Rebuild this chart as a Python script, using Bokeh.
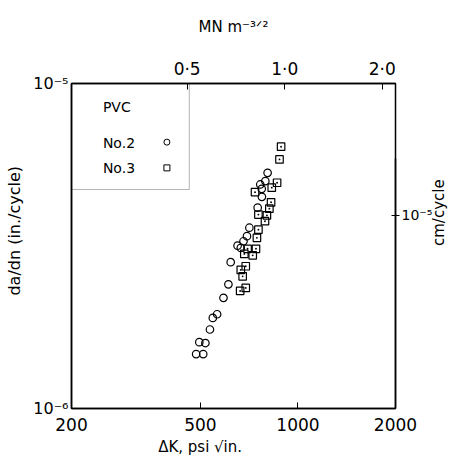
import math
from bokeh.plotting import figure
from bokeh.models import Range1d, LogAxis, LogScale, FixedTicker, CustomJSTickFormatter, BoxAnnotation, Label
from bokeh.embed import file_html
from bokeh.resources import INLINE

# ---- data ----
no2_dK = [485, 510, 496, 518, 535, 546, 563, 589, 610, 620, 651, 666, 679, 696, 708,
          751, 774, 765, 773, 793, 806]
no2_dadn = [1.47e-6, 1.47e-6, 1.60e-6, 1.59e-6, 1.75e-6, 1.90e-6, 1.95e-6, 2.19e-6,
            2.41e-6, 2.82e-6, 3.17e-6, 3.12e-6, 3.27e-6, 3.39e-6, 3.60e-6, 4.15e-6,
            4.48e-6, 4.89e-6, 4.74e-6, 5.01e-6, 5.31e-6]
no3_dK = [887, 877, 862, 830, 737, 826, 816, 755, 802, 791, 755, 747, 699, 742, 683,
          725, 690, 666, 675, 690, 663]
no3_dadn = [6.39e-6, 5.84e-6, 4.95e-6, 4.78e-6, 4.63e-6, 4.31e-6, 4.12e-6, 3.95e-6,
            3.93e-6, 3.77e-6, 3.55e-6, 3.35e-6, 3.10e-6, 3.10e-6, 2.99e-6, 2.96e-6,
            2.74e-6, 2.67e-6, 2.55e-6, 2.35e-6, 2.30e-6]

x_ticks = [200, 500, 1000, 2000]
x_tick_labels = ["200", "500", "1000", "2000"]
y_ticks = [1e-6, 1e-5]
y_tick_labels = ["10\u207b\u2076", "10\u207b\u2075"]
top_ticks = [0.5, 1.0, 2.0]
top_tick_labels = ["0\u00b75", "1\u00b70", "2\u00b70"]
right_ticks = [1e-5]
right_tick_labels = ["10\u207b\u2075"]

PSI_IN_PER_MPA_M = 910.0
CM_PER_IN = 2.54
X_MIN, X_MAX = 200, 2000
Y_MIN, Y_MAX = 1e-6, 1e-5

FONT = "DejaVu Sans"

def fmt(tk, lb):
    return CustomJSTickFormatter(args=dict(tks=tk, lbls=lb), code="""
        let best = 0;
        for (let i = 0; i < tks.length; i++) {
            if (Math.abs(Math.log(tks[i] / tick)) < Math.abs(Math.log(tks[best] / tick))) best = i;
        }
        return lbls[best];
    """)

p = figure(x_axis_type="log", y_axis_type="log",
           x_range=Range1d(X_MIN, X_MAX), y_range=Range1d(Y_MIN, Y_MAX),
           frame_width=324, frame_height=325,
           min_border_left=71, min_border_right=50, min_border_top=83, min_border_bottom=48,
           output_backend="svg", toolbar_location=None)
p.grid.visible = False
p.outline_line_color = "black"
p.outline_line_width = 1.5
p.background_fill_color = "white"

p.extra_x_ranges = {"mn": Range1d(X_MIN / PSI_IN_PER_MPA_M, X_MAX / PSI_IN_PER_MPA_M)}
p.extra_x_scales = {"mn": LogScale()}
p.extra_y_ranges = {"cm": Range1d(Y_MIN * CM_PER_IN, Y_MAX * CM_PER_IN)}
p.extra_y_scales = {"cm": LogScale()}

nb = "\u00a0"
xa = p.xaxis[0]
xa.ticker = FixedTicker(ticks=x_ticks)
xa.formatter = fmt(x_ticks, x_tick_labels)
xa.axis_label = "\u0394K, psi \u221ain." + nb * 14

ya = p.yaxis[0]
ya.ticker = FixedTicker(ticks=y_ticks)
ya.formatter = fmt(y_ticks, y_tick_labels)
ya.axis_label = nb * 6 + "da/dn (in./cycle)"

top = LogAxis(x_range_name="mn", ticker=FixedTicker(ticks=top_ticks),
              formatter=fmt(top_ticks, top_tick_labels),
              axis_label="MN m\u207b\u00b3\u141f\u00b2")
# bounds shift the (start-anchored) rotated title so that it sits like the reference's
right = LogAxis(y_range_name="cm", ticker=FixedTicker(ticks=right_ticks),
                formatter=fmt(right_ticks, right_tick_labels),
                axis_label="cm/cycle",
                bounds=(Y_MIN * CM_PER_IN, 1.494e-5))
p.add_layout(top, "above")
p.add_layout(right, "right")

for ax in [xa, ya, top, right]:
    ax.axis_line_color = "black"
    ax.axis_line_width = 1.5
    ax.major_tick_line_color = "black"
    ax.major_tick_in = 6
    ax.major_tick_out = 0
    ax.minor_tick_line_color = None
    ax.major_label_text_font = FONT
    ax.major_label_text_font_size = "17px"
    ax.major_label_text_color = "black"
    ax.axis_label_text_font = FONT
    ax.axis_label_text_font_size = "15px"
    ax.axis_label_text_font_style = "normal"
    ax.axis_label_text_color = "black"

ya.axis_label_text_font_size = "16px"
ya.major_label_text_font_size = "16px"
right.major_tick_out = 4
right.major_tick_in = 4
right.major_label_text_font_size = "14px"
right.axis_label_orientation = math.pi / 2
xa.major_label_standoff = 9
xa.axis_label_standoff = 4
ya.major_label_standoff = 3
ya.axis_label_standoff = 6
top.major_label_standoff = 5
top.axis_label_standoff = 20
right.major_label_standoff = 2
right.axis_label_standoff = 4

# data
p.scatter(no2_dK, no2_dadn, marker="circle", size=7.5, line_color="black",
          fill_color=None, line_width=1.2)
p.scatter(no3_dK, no3_dadn, marker="square_dot", size=7.5, line_color="black",
          fill_color=None, line_width=1.2)

# legend box (top-left)
p.add_layout(BoxAnnotation(left=X_MIN, right=462, bottom=4.72e-6, top=Y_MAX,
                           fill_alpha=0, line_color="black", line_width=1))
for txt, yy in [("PVC", 8.44e-6), ("No.2", 6.58e-6), ("No.3", 5.51e-6)]:
    p.add_layout(Label(x=250, y=yy, text=txt, text_font=FONT, text_font_size="14px",
                       text_baseline="middle", text_color="black"))
p.scatter([394], [6.6e-6], marker="circle", size=6, line_color="black", fill_color=None)
p.scatter([394], [5.5e-6], marker="square", size=6, line_color="black", fill_color=None)

open("out.html", "w").write(file_html(p, INLINE))
